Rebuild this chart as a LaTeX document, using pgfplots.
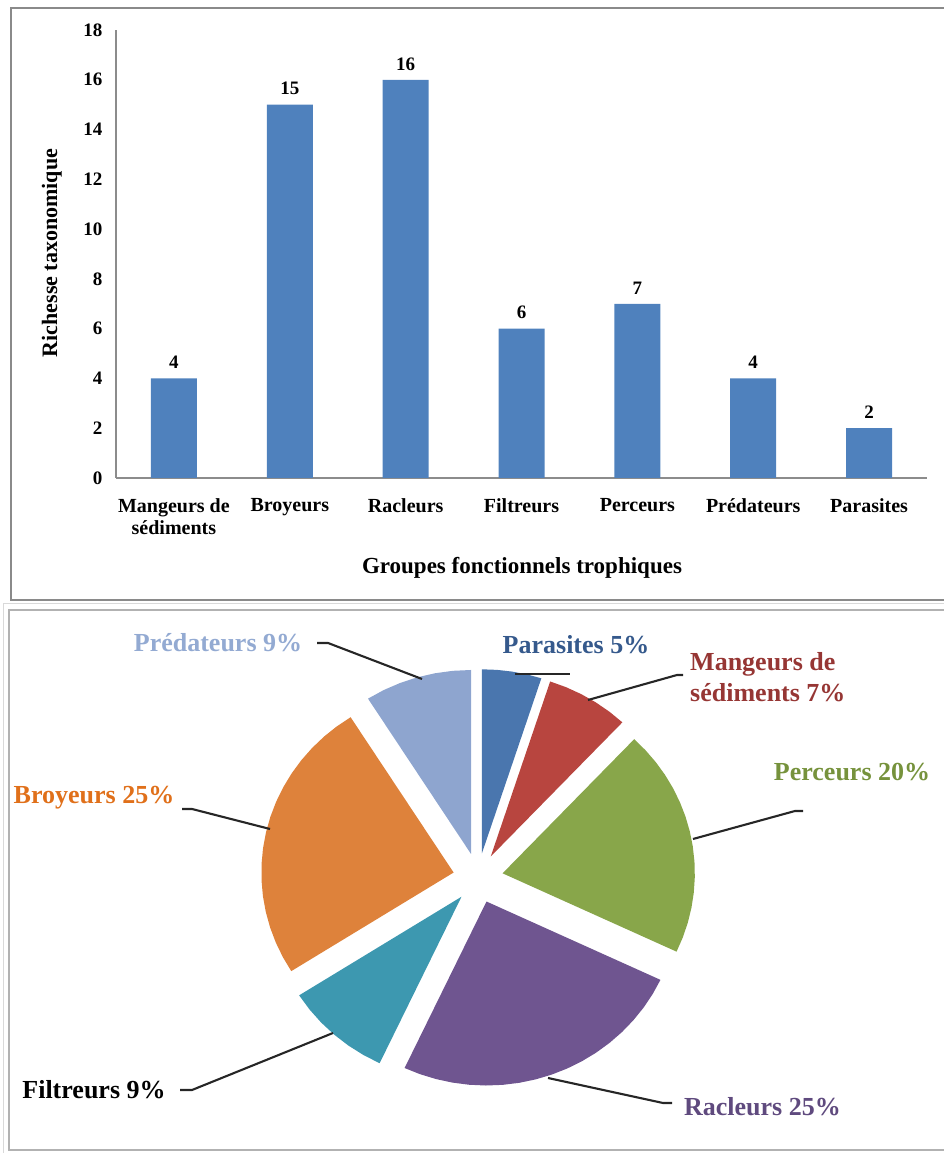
\documentclass[border=0pt]{standalone}
\usepackage{pgfplots}
\pgfplotsset{compat=1.18}
\usepackage{fontspec}
\setmainfont{Liberation Serif}

\definecolor{barblue}{HTML}{4F81BD}
\definecolor{axisgray}{HTML}{8C8C8C}
\definecolor{framegray}{HTML}{8A8A8A}
\definecolor{leader}{HTML}{262626}
% slice fills
\definecolor{cPar}{HTML}{4A76AE}
\definecolor{cMan}{HTML}{B8453F}
\definecolor{cPer}{HTML}{88A64A}
\definecolor{cRac}{HTML}{6F5590}
\definecolor{cFil}{HTML}{3D98B0}
\definecolor{cBro}{HTML}{DE823B}
\definecolor{cPre}{HTML}{8EA5CF}
% slice label colours
\definecolor{tPar}{HTML}{35598C}
\definecolor{tMan}{HTML}{963634}
\definecolor{tPer}{HTML}{76923C}
\definecolor{tRac}{HTML}{5F4A7E}
\definecolor{tBro}{HTML}{E0701A}
\definecolor{tPre}{HTML}{93AAD2}

\begin{document}
\begin{tikzpicture}[x=1pt,y=1pt]
\path[use as bounding box] (0,0) rectangle (944,1153);

% panel frames
\draw[color=framegray, line width=1.3pt] (950,1145) -- (11,1145) -- (11,553) -- (950,553);
\draw[color=black!15, line width=0.8pt] (950,550) -- (3,550) -- (3,-5);
\draw[color=black!30, line width=2.4pt] (950,543) -- (9,543) -- (9,3) -- (950,3);

% ---------- bar chart ----------
\begin{axis}[
  at={(116pt,675pt)}, anchor=south west,
  scale only axis, width=811pt, height=448pt,
  xmin=-0.5, xmax=6.5, ymin=0, ymax=18,
  ytick={0,2,...,18}, xtick={0,...,6},
  xticklabels={{Mangeurs de\\sédiments},Broyeurs,Racleurs,Filtreurs,Perceurs,Prédateurs,Parasites},
  axis x line*=bottom, axis y line*=left,
  axis line style={draw=axisgray, line width=1.3pt, -},
  major tick length=0pt,
  /pgf/number format/assume math mode=true,
  yticklabel style={font=\fontsize{19}{21}\selectfont\bfseries, xshift=-10pt},
  xticklabel style={font=\fontsize{20}{22}\selectfont\bfseries, align=center, yshift=-17pt},
  ybar, bar width=46pt,
  nodes near coords,
  every node near coord/.append style={font=\fontsize{19}{21}\selectfont\bfseries, anchor=south, yshift=6pt},
  xlabel={Groupes fonctionnels trophiques},
  ylabel={Richesse taxonomique},
  every axis x label/.style={at={(axis description cs:0.5006,-0.2)}, anchor=center, font=\fontsize{23}{26}\selectfont\bfseries},
  every axis y label/.style={at={(axis description cs:-0.079,0.502)}, anchor=center, rotate=90, font=\fontsize{22}{24}\selectfont\bfseries},
]
\addplot[fill=barblue, draw=none] coordinates {(0,4) (1,15) (2,16) (3,6) (4,7) (5,4) (6,2)};
\end{axis}

% ---------- pie chart (angle, radius) ----------
\begin{axis}[
  at={(0pt,0pt)}, anchor=south west,
  scale only axis, width=944pt, height=550pt,
  xmin=-457.4, xmax=445.9, ymin=-275, ymax=275,
  hide axis, clip=false,
]
% Parasites 5%
\addplot[fill=cPar, draw=none, data cs=polar, shift={(81:25pt)}] coordinates {
  (0,0) (72,184) (76.5,184) (81,184) (85.5,184) (90,184)};
% Mangeurs de sediments 7%
\addplot[fill=cMan, draw=none, data cs=polar, shift={(59.4:25pt)}] coordinates {
  (0,0) (46.8,184) (51.84,184) (56.88,184) (61.92,184) (66.96,184) (72,184)};
% Perceurs 20%
\addplot[fill=cPer, draw=none, data cs=polar, shift={(10.8:25pt)}] coordinates {
  (0,0) (-25.2,184) (-20.4,184) (-15.6,184) (-10.8,184) (-6,184) (-1.2,184)
  (3.6,184) (8.4,184) (13.2,184) (18,184) (22.8,184) (27.6,184) (32.4,184)
  (37.2,184) (42,184) (46.8,184)};
% Racleurs 25%
\addplot[fill=cRac, draw=none, data cs=polar, shift={(-70.2:25pt)}] coordinates {
  (0,0) (-115.2,184) (-110.2,184) (-105.2,184) (-100.2,184) (-95.2,184)
  (-90.2,184) (-85.2,184) (-80.2,184) (-75.2,184) (-70.2,184) (-65.2,184)
  (-60.2,184) (-55.2,184) (-50.2,184) (-45.2,184) (-40.2,184) (-35.2,184)
  (-30.2,184) (-25.2,184)};
% Filtreurs 9%
\addplot[fill=cFil, draw=none, data cs=polar, shift={(-131.4:25pt)}] coordinates {
  (0,0) (-147.6,184) (-142.2,184) (-136.8,184) (-131.4,184) (-126,184)
  (-120.6,184) (-115.2,184)};
% Broyeurs 25%
\addplot[fill=cBro, draw=none, data cs=polar, shift={(167.4:25pt)}] coordinates {
  (0,0) (122.4,184) (127.4,184) (132.4,184) (137.4,184) (142.4,184)
  (147.4,184) (152.4,184) (157.4,184) (162.4,184) (167.4,184) (172.4,184)
  (177.4,184) (182.4,184) (187.4,184) (192.4,184) (197.4,184) (202.4,184)
  (207.4,184) (212.4,184)};
% Predateurs 9%
\addplot[fill=cPre, draw=none, data cs=polar, shift={(106.2:25pt)}] coordinates {
  (0,0) (90,184) (95.4,184) (100.8,184) (106.2,184) (111.6,184) (117,184)
  (122.4,184)};
\end{axis}

% slice labels and leader lines
\begin{scope}[line width=2.1pt, color=leader]
\draw (317,510) -- (328,510) -- (422,474);
\draw (515,479) -- (570,479);
\draw (588,453) -- (677,478) -- (683,478);
\draw (693,314) -- (795,342) -- (803,342);
\draw (548,75) -- (663,50) -- (672,50);
\draw (180,63) -- (192,63) -- (333,120);
\draw (182,344) -- (192,344) -- (270,324);
\end{scope}
\begin{scope}[every node/.style={font=\fontsize{26}{31}\selectfont\bfseries, inner sep=0pt}]
\node[text=tPre] at (218,510) {Prédateurs 9\%};
\node[text=tPar] at (576,508) {Parasites 5\%};
\node[text=tMan, anchor=west, align=left] at (690,475.5) {Mangeurs de\\sédiments 7\%};
\node[text=tPer] at (852,381) {Perceurs 20\%};
\node[text=tRac] at (762.5,46) {Racleurs 25\%};
\node[text=black] at (94,63) {Filtreurs 9\%};
\node[text=tBro] at (94,355) {Broyeurs 25\%};
\end{scope}
\end{tikzpicture}
\end{document}
